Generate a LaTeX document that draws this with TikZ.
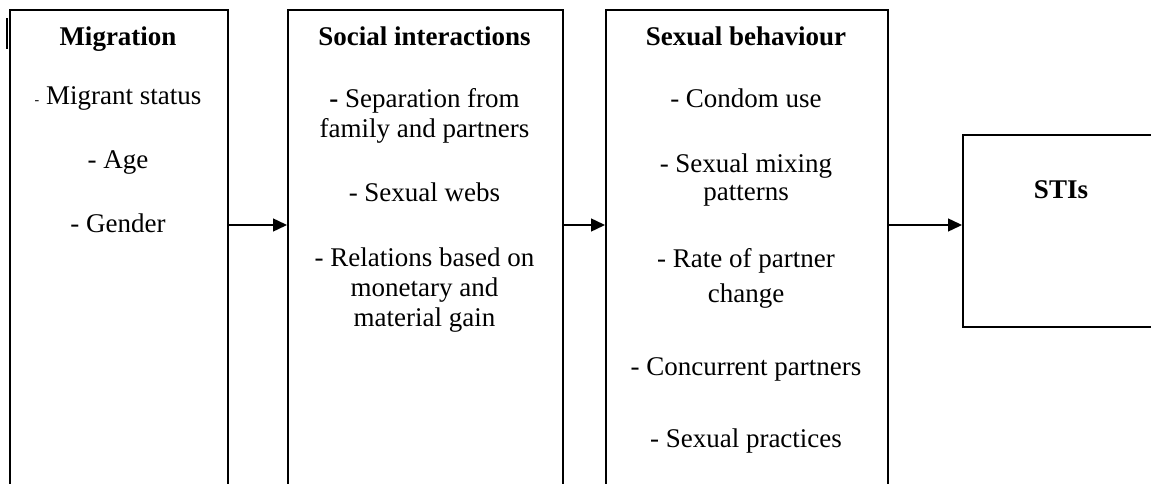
\documentclass[tikz,border=0pt]{standalone}
\usepackage{fontspec}
\setmainfont{Liberation Serif}
\usetikzlibrary{arrows.meta}
\tikzset{
  box/.style={draw, line width=1.7pt, anchor=north west, inner sep=0pt, minimum height=520pt},
  txt/.style={anchor=north, align=center, inner sep=0pt, font=\fontsize{27}{30}\selectfont},
  arr/.style={line width=1.4pt, -{Triangle[length=14pt,width=13pt]}}
}
\newcommand{\topline}{\rule{0pt}{20pt}}

\begin{document}
\begin{tikzpicture}[x=1pt,y=-1pt]
  \useasboundingbox (0,0) rectangle (1151,484);
  \clip (0,0) rectangle (1151,484);
  \node[box, minimum width=218pt] (migbox) at (9,9) {};
  \node[box, minimum width=275pt] (socbox) at (287,9) {};
  \node[box, minimum width=282pt] (sexbox) at (605,9) {};
  \node[box, minimum width=200pt, minimum height=192pt] (stibox) at (962,134) {};
  \draw[line width=2pt] (7,18) -- (7,49);
  \node[txt] (migtxt) at (118,25) {\topline\textbf{Migration}\\[29pt]
    {\fontsize{14}{14}\selectfont-} Migrant status\\[34pt] - Age\\[34pt] - Gender};
  \node[txt] (soctxt) at (424.5,25) {\topline\textbf{Social interactions}\\[32pt]
    \textbf{-} Separation from\\ family and partners\\[34pt] - Sexual webs\\[35pt]
    - Relations based on\\ monetary and\\ material gain};
  \node[txt] (sextxt) at (746,25) {\topline\textbf{Sexual behaviour}\\[32pt]
    - Condom use\\[35pt] - Sexual mixing\\[-2pt] patterns\\[37pt]
    - Rate of partner\\[5pt] change\\[43pt] - Concurrent partners\\[42pt]
    - Sexual practices};
  \node[txt, anchor=base] (stitxt) at (1061,198) {\textbf{STIs}};
  \coordinate (axis) at (0,225);
  \draw[arr] (migbox.east |- axis) -- (socbox.west |- axis);
  \draw[arr] (socbox.east |- axis) -- (sexbox.west |- axis);
  \draw[arr] (sexbox.east |- axis) -- (stibox.west |- axis);
\end{tikzpicture}
\end{document}
